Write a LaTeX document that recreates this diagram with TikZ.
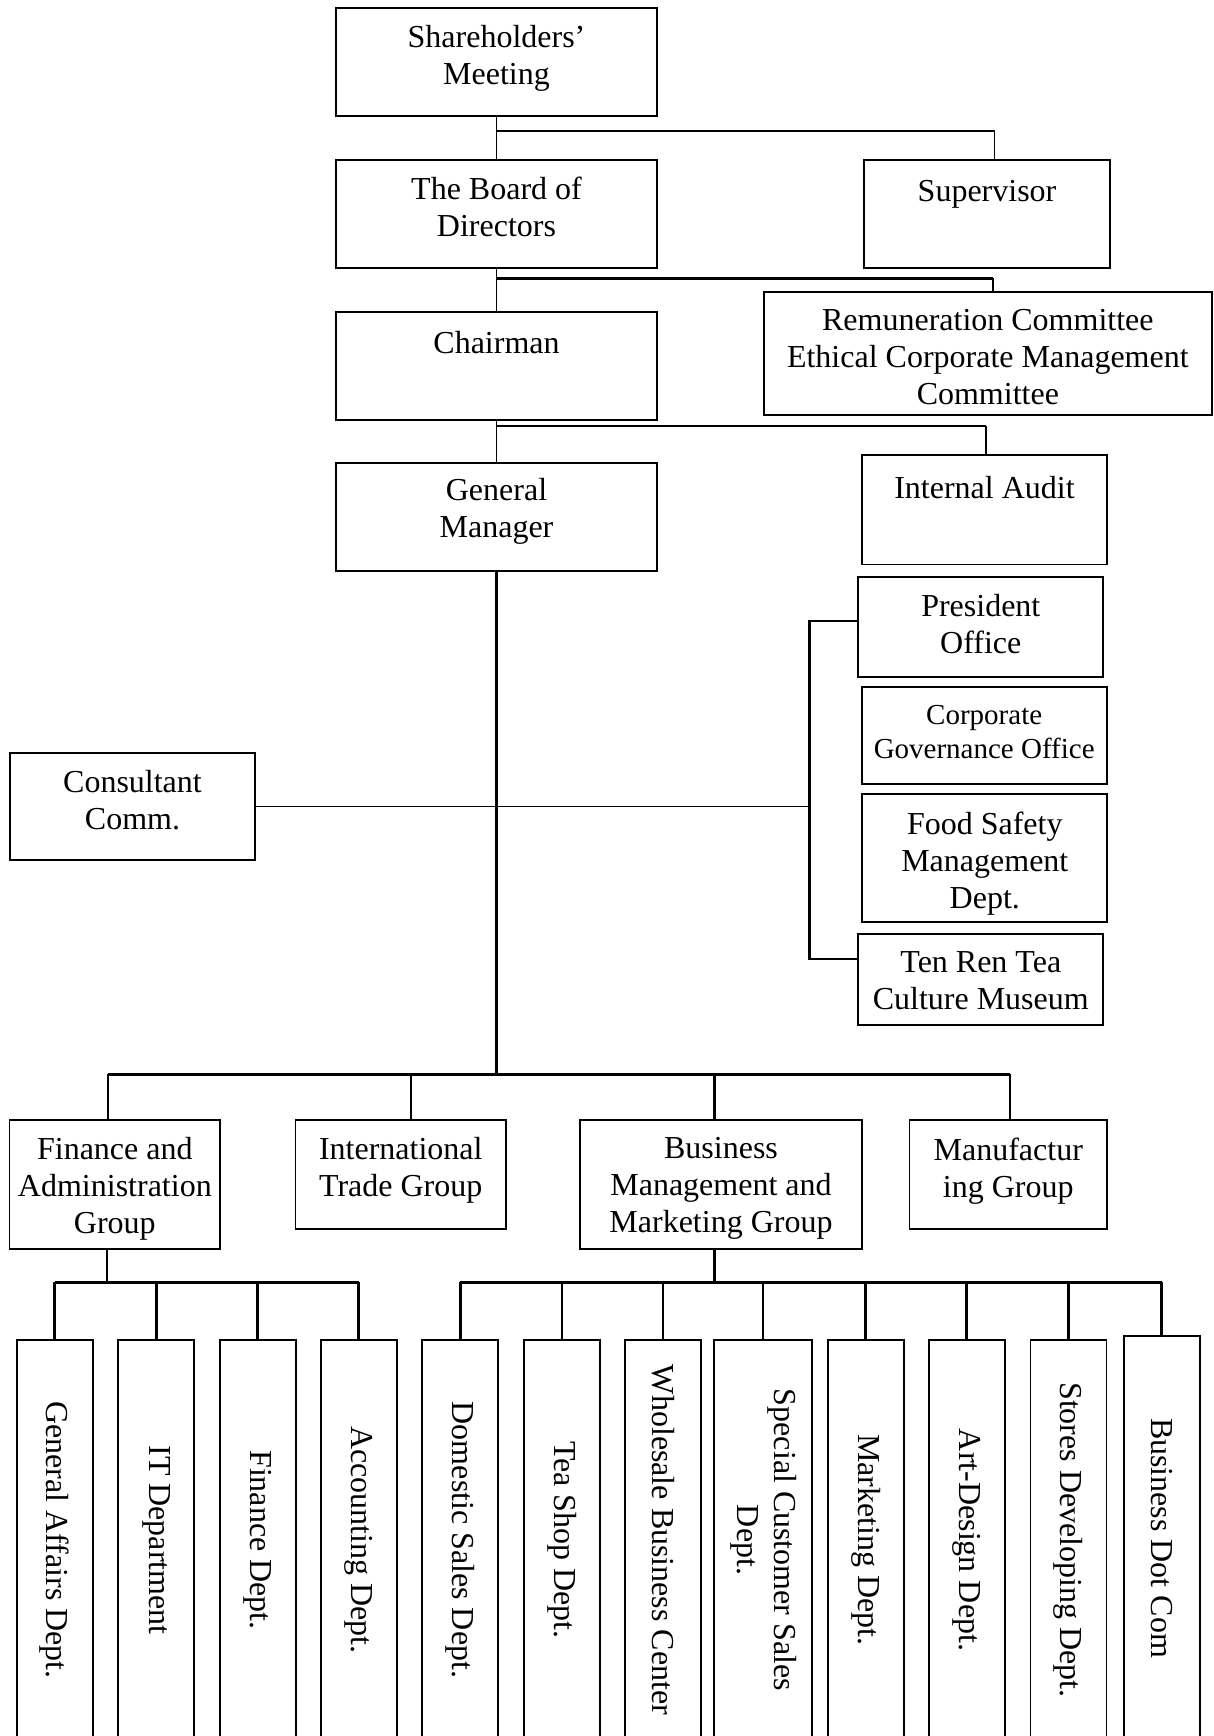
\documentclass[tikz,border=0pt]{standalone}
\usepackage{fontspec}
\setmainfont{Liberation Serif}
\usepackage{graphicx}
\usetikzlibrary{positioning,calc}

\begin{document}
\begin{tikzpicture}[
    x=0.5pt, y=-0.5pt,
    font=\fontsize{16}{18.5}\selectfont,
    box/.style={draw, line width=0.9pt, inner sep=0pt, minimum width=160.5pt, minimum height=54.2pt},
    sidebox/.style={box, minimum width=122.5pt},
    groupbox/.style={box, minimum width=105.35pt, minimum height=64.35pt},
    deptbox/.style={draw, line width=0.9pt, inner sep=0pt, minimum width=38pt, minimum height=200pt},
    boxtext/.style={anchor=north, align=center, inner sep=0pt, yshift=-9pt, execute at begin node=\strut},
    smalltext/.style={boxtext, yshift=-0.6pt, font=\fontsize{14.5}{16.6}\selectfont},
    link/.style={line width=0.9pt},
    thicklink/.style={line width=1.4pt},
    hairlink/.style={line width=0.6pt}
]
\useasboundingbox (0,0) rectangle (1214,1736);

% ===== Main column =====
\node[box, label={[boxtext]north:{Shareholders’\\Meeting}}] (share) at (496.5,62) {};
\node[box, below=20.9pt of share, label={[boxtext]north:{The Board of\\Directors}}] (board) {};
\node[box, below=20.8pt of board, label={[boxtext, yshift=1pt]north:{Chairman}}] (chair) {};
\node[box, below=20.65pt of chair, minimum height=53.75pt, label={[boxtext, yshift=1pt]north:{General\\Manager}}] (gm) {};

% ===== Right column =====
\node[box, minimum width=122.75pt, right=102.75pt of board, label={[boxtext, yshift=1pt]north:{Supervisor}}] (sv) {};
\node[box, minimum width=224.15pt, minimum height=61.35pt, label={[boxtext]north:{Remuneration Committee\\Ethical Corporate Management\\Committee}}] (rem) at (987.85,353.65) {};
\node[sidebox, minimum height=54.7pt, label={[boxtext]north:{Internal Audit}}] (ia) at (984.5,509.7) {};

% ===== Staff offices =====
\node[sidebox, minimum height=50.3pt, label={[boxtext]north:{President\\Office}}] (po) at (980.8,627) {};
\node[sidebox, minimum height=48.5pt, label={[smalltext]north:{Corporate\\Governance Office}}] (cgo) at (984.2,735.5) {};
\node[sidebox, minimum height=64.15pt, label={[boxtext]north:{Food Safety\\Management\\Dept.}}] (fsm) at (984.8,858.15) {};
\node[sidebox, minimum height=45.5pt, label={[boxtext]north:{Ten Ren Tea\\Culture Museum}}] (trm) at (980.8,979.5) {};

% ===== Consultant =====
\node[sidebox, minimum height=53.65pt, label={[boxtext]north:{Consultant\\Comm.}}] (cons) at (132.5,806.35) {};

% ===== Groups =====
\node[groupbox, label={[boxtext]north:{Finance and\\Administration\\Group}}] (fag) at (114.85,1184.35) {};
\node[groupbox, minimum height=54.65pt, label={[boxtext]north:{International\\Trade Group}}] (itg) at (400.75,1174.65) {};
\node[groupbox, minimum width=141pt, label={[boxtext]north:{Business\\Management and\\Marketing Group}}] (bmg) at (721,1184.35) {};
\node[groupbox, minimum width=98.75pt, minimum height=54.65pt, label={[boxtext]north:{Manufactur\\ing Group}}] (mfg) at (1008.25,1174.65) {};

% ===== Departments =====
\node[deptbox] (d1) at (54.8,1540) {\rotatebox{-90}{General Affairs Dept.}};
\node[deptbox] (d2) at (156.2,1540) {\rotatebox{-90}{IT Department}};
\node[deptbox] (d3) at (257.8,1540) {\rotatebox{-90}{Finance Dept.}};
\node[deptbox] (d4) at (358.6,1540) {\rotatebox{-90}{Accounting Dept.}};
\node[deptbox] (d5) at (460.3,1540) {\rotatebox{-90}{Domestic Sales Dept.}};
\node[deptbox] (d6) at (561.9,1540) {\rotatebox{-90}{Tea Shop Dept.}};
\node[deptbox] (d7) at (663,1540) {\rotatebox{-90}{Wholesale Business Center}};
\node[deptbox, minimum width=49.1pt] (d8) at (763,1540) {\rotatebox{-90}{\begin{tabular}{@{}c@{}}Special Customer Sales\\Dept.\end{tabular}}};
\node[deptbox] (d9) at (865.7,1540) {\rotatebox{-90}{Marketing Dept.}};
\node[deptbox] (d10) at (966.7,1540) {\rotatebox{-90}{Art-Design Dept.}};
\node[deptbox] (d11) at (1068.5,1540) {\rotatebox{-90}{Stores Developing Dept.}};
\node[deptbox, minimum height=202pt] (d12) at (1161.6,1538) {\rotatebox{-90}{Business Dot Com}};

% ===== Connectors: top =====
\draw[link] (share) -- (board);
\coordinate (j1) at (share.south |- 0,131);
\draw[link] (j1) -| ($(sv.north)+(7.5,0)$);

\draw[link] (board) -- (chair);
\coordinate (j2) at (board.south |- 0,278.3);
\coordinate (j2r) at ($(rem.north)+(5,0)$);
\draw[thicklink] (j2) -- (j2 -| j2r);
\draw[link] (j2 -| j2r) -- (j2r);

\draw[link] (chair) -- (gm);
\coordinate (j3) at (chair.south |- 0,426);
\coordinate (j3r) at ($(ia.north)+(1.5,0)$);
\draw[thicklink] (j3) -- (j3 -| j3r);
\draw[link] (j3 -| j3r) -- (j3r);

% ===== Connectors: staff bracket =====
\coordinate (brtop) at (809.3,621);
\coordinate (brbot) at (809.3,959);
\draw[thicklink] (po.west |- brtop) -- (brtop) -- (brbot) -- (trm.west |- brbot);
\draw[hairlink] (cons.east) -- (cons.east -| brtop);

% ===== Connectors: groups =====
\coordinate (topbus) at (gm.south |- 0,1074.3);
\draw[thicklink] (gm) -- (topbus);
\coordinate (t1) at (108,1074.3);
\coordinate (t2) at (411,1074.3);
\coordinate (t3) at (714.3,1074.3);
\coordinate (t4) at (1010,1074.3);
\draw[thicklink] (t1) -- (t4);
\draw[thicklink] (t1) -- (t1 |- fag.north);
\draw[thicklink] (t2) -- (t2 |- itg.north);
\draw[thicklink] (t3) -- (t3 |- bmg.north);
\draw[thicklink] (t4) -- (t4 |- mfg.north);

% ===== Connectors: departments =====
\coordinate (fabus) at (107,1282.3);
\draw[thicklink] (fabus |- fag.south) -- (fabus);
\draw[thicklink] (d1.north |- fabus) -- (d4.north |- fabus);
\draw[thicklink] (d1.north |- fabus) -- (d1.north);
\draw[thicklink] (d2.north |- fabus) -- (d2.north);
\draw[thicklink] (d3.north |- fabus) -- (d3.north);
\draw[thicklink] (d4.north |- fabus) -- (d4.north);

\coordinate (bmbus) at (714.3,1282.3);
\draw[thicklink] (bmbus |- bmg.south) -- (bmbus);
\draw[thicklink] (d5.north |- bmbus) -- (d12.north |- bmbus);
\draw[thicklink] (d5.north |- bmbus) -- (d5.north);
\draw[thicklink] (d6.north |- bmbus) -- (d6.north);
\draw[thicklink] (d7.north |- bmbus) -- (d7.north);
\draw[thicklink] (d8.north |- bmbus) -- (d8.north);
\draw[thicklink] (d9.north |- bmbus) -- (d9.north);
\draw[thicklink] (d10.north |- bmbus) -- (d10.north);
\draw[thicklink] (d11.north |- bmbus) -- (d11.north);
\draw[thicklink] (d12.north |- bmbus) -- (d12.north);

\end{tikzpicture}
\end{document}
